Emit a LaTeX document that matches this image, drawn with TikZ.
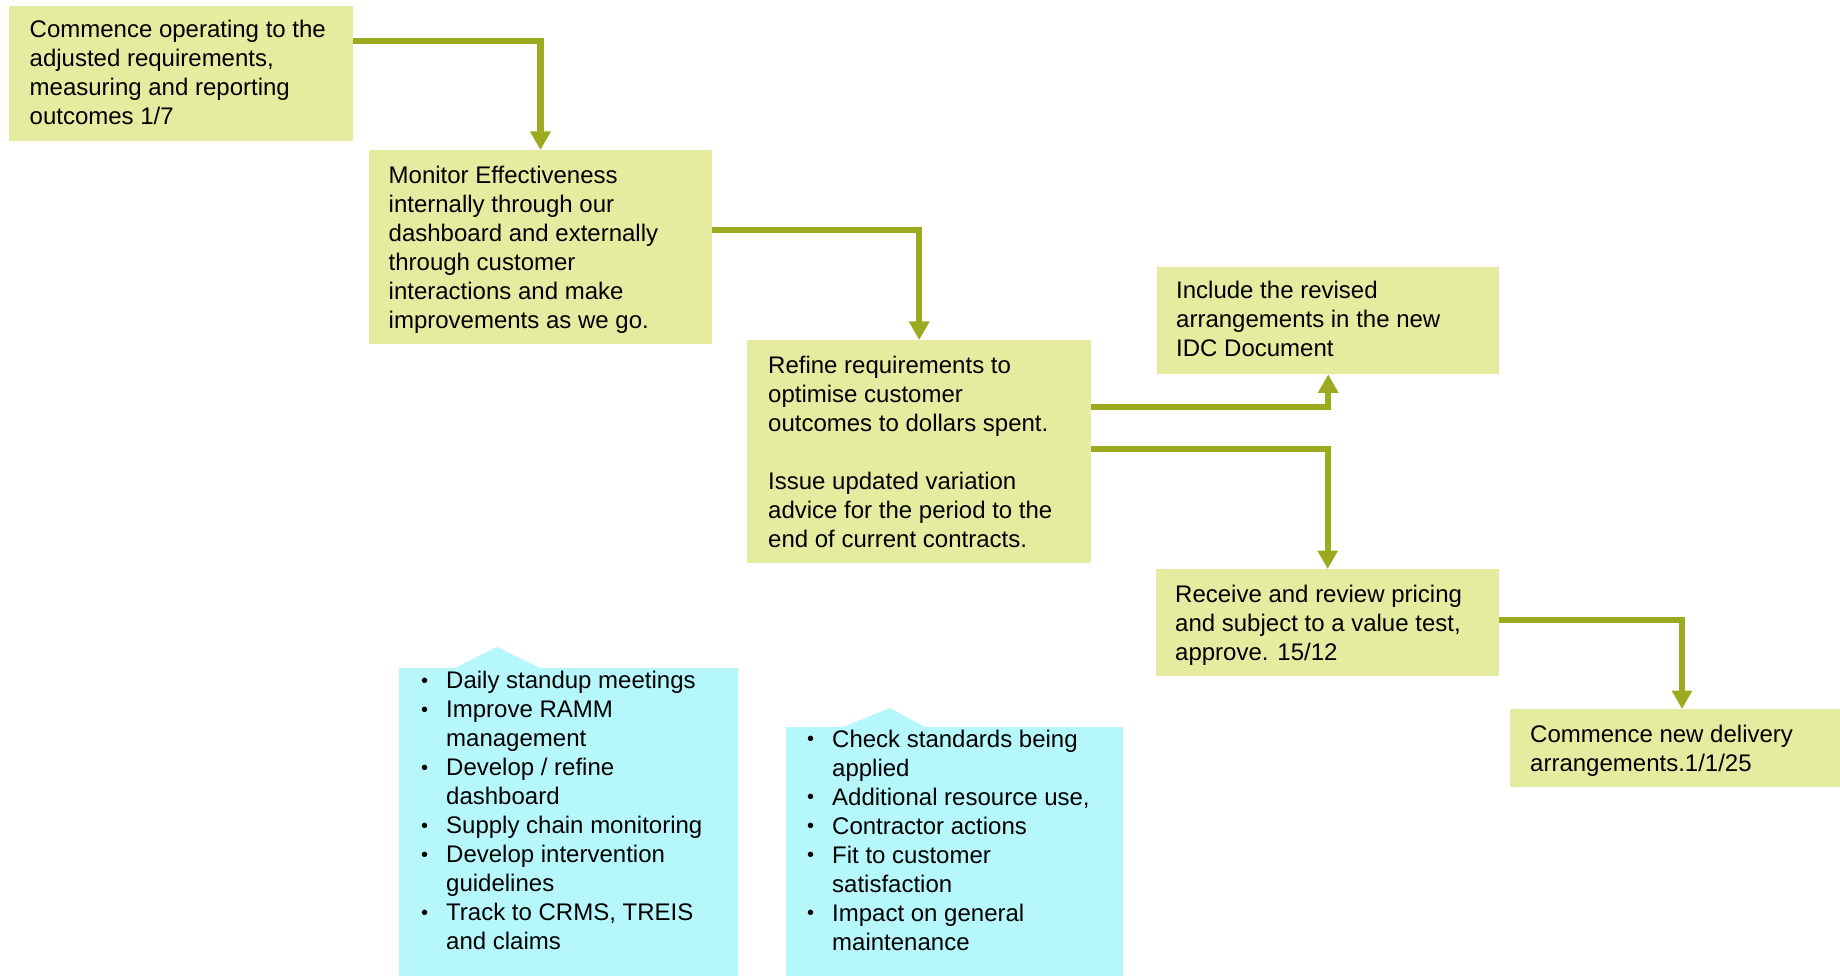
\documentclass[tikz,border=0pt]{standalone}
\usepackage{fontspec}
\setmainfont{Liberation Sans}
\usetikzlibrary{arrows.meta,calc}
\definecolor{boxgreen}{RGB}{229,236,160}
\definecolor{boxcyan}{RGB}{182,247,252}
\definecolor{arrowolive}{RGB}{155,170,30}
\newcommand\bul{\makebox[24pt][l]{\hspace*{-1pt}\raisebox{1.5pt}{\fontsize{20}{29}\selectfont •}}}
\newcommand\ind{\hspace*{24pt}}
\newcommand\fst{\rule{0pt}{20pt}}
\begin{document}
\begin{tikzpicture}[x=1pt,y=-1pt,
  gbox/.style={rectangle,fill=boxgreen,draw=none,inner sep=0pt,anchor=north west},
  txt/.style={inner sep=0pt,anchor=north west,align=left,font=\fontsize{24}{29}\selectfont},
  conn/.style={draw=arrowolive,line width=6.3pt,-{Triangle[width=19.5pt,length=18.5pt]}},
  callout/.style={fill=boxcyan,draw=none}]
\useasboundingbox (0,0) rectangle (1840,976);

% green boxes
\node[gbox,minimum width=344pt,minimum height=135pt] (b1) at (9,6) {};
\node[gbox,minimum width=343.5pt,minimum height=193.5pt] (b2) at (368.5,150) {};
\node[gbox,minimum width=344pt,minimum height=223pt] (b3) at (747,340) {};
\node[gbox,minimum width=342pt,minimum height=107pt] (b4) at (1157,267) {};
\node[gbox,minimum width=343pt,minimum height=107pt] (b5) at (1156,569) {};
\node[gbox,minimum width=330pt,minimum height=78pt] (b6) at (1510,709) {};

% texts of green boxes
\node[txt] (t1) at (29.5,17) {\fst Commence operating to the\\adjusted requirements,\\measuring and reporting\\outcomes 1/7};
\node[txt] (t2) at (388.5,163) {\fst Monitor Effectiveness\\internally through our\\dashboard and externally\\through customer\\interactions and make\\improvements as we go.};
\node[txt] (t3) at (768,353) {\fst Refine requirements to\\optimise customer\\outcomes to dollars spent.\\[29pt]Issue updated variation\\advice for the period to the\\end of current contracts.};
\node[txt] (t4) at (1176,278.5) {\fst Include the revised\\arrangements in the new\\IDC Document};
\node[txt] (t5) at (1175,582.5) {\fst Receive and review pricing\\and subject to a value test,\\approve. 15/12};
\node[txt] (t6) at (1530,722) {\fst Commence new delivery\\arrangements.1/1/25};

% connectors
\draw[conn] ($(b1.north east)+(0,34.7)$) -| (b2.north);
\draw[conn] ($(b2.north east)+(0,80)$) -| (b3.north);
\draw[conn] ($(b3.north east)+(0,67)$) -| (b4.south);
\draw[conn] ($(b3.north east)+(0,109)$) -| (b5.north);
\coordinate (b6in) at ($(b6.north west)+(172,0)$);
\draw[conn] ($(b5.north east)+(0,51)$) -| (b6in);

% callouts
\fill[callout] (399,668) -- (455,668) -- (497,647) -- (540,668) -- (738,668) -- (738,976) -- (399,976) -- cycle;
\fill[callout] (786,727) -- (843,727) -- (890,708) -- (925,727) -- (1123,727) -- (1123,976) -- (786,976) -- cycle;

\node[txt] (c1) at (422,668.5) {\fst\bul Daily standup meetings\\\bul Improve RAMM\\\ind management\\\bul Develop / refine\\\ind dashboard\\\bul Supply chain monitoring\\\bul Develop intervention\\\ind guidelines\\\bul Track to CRMS, TREIS\\\ind and claims};
\node[txt] (c2) at (808,727) {\fst\bul Check standards being\\\ind applied\\\bul Additional resource use,\\\bul Contractor actions\\\bul Fit to customer\\\ind satisfaction\\\bul Impact on general\\\ind maintenance};
\end{tikzpicture}
\end{document}
